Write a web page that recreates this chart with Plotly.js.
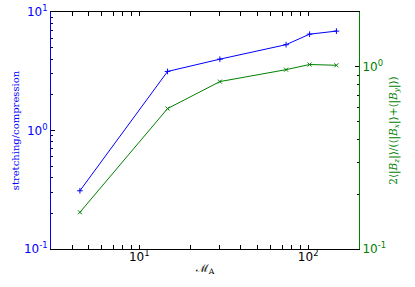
<!DOCTYPE html>
<html><head><meta charset="utf-8">
<script src="https://cdn.plot.ly/plotly-3.0.1.min.js"></script>
<style>html,body{margin:0;padding:0;background:#fff}#plot{width:415px;height:287px}</style>
</head><body><div id="plot"></div>
<script>
var machA = [4.45, 14.7, 30, 74, 102, 147];
var stretching = [0.31, 3.15, 4.0, 5.3, 6.5, 6.9];
var ratioB = [0.159, 0.59, 0.83, 0.965, 1.03, 1.02];
var tickVals = [1, 10, 100];
var tickText = ['10<sup>0</sup>', '10<sup>1</sup>', '10<sup>2</sup>'];
var yTickVals = [0.1, 1, 10];
var yTickText = ['10<sup>-1</sup>', '10<sup>0</sup>', '10<sup>1</sup>'];

var traces = [
  {x: machA, y: stretching, type: 'scatter', mode: 'lines+markers', yaxis: 'y',
   line: {color: '#0000ff', width: 1}, marker: {symbol: 'cross-thin', size: 4, color: '#0000ff', line: {color: '#0000ff', width: 1}}},
  {x: machA, y: ratioB, type: 'scatter', mode: 'lines+markers', yaxis: 'y2',
   line: {color: '#008000', width: 1}, marker: {symbol: 'x-thin', size: 4, color: '#008000', line: {color: '#008000', width: 1}}}
];
var layout = {
  width: 415, height: 287, showlegend: false,
  margin: {l: 51, r: 56, t: 12, b: 38},
  paper_bgcolor: '#fff', plot_bgcolor: '#fff',
  font: {family: 'DejaVu Sans', size: 12, color: '#000'},
  xaxis: {type: 'log', range: [Math.log10(3), Math.log10(200)], showgrid: false, zeroline: false,
    showline: true, linecolor: '#000', linewidth: 1, mirror: 'allticks',
    ticks: 'inside', ticklen: 4, tickcolor: '#000', tickvals: tickVals, ticktext: tickText,
    ticklabelstandoff: -3,
    minor: {ticks: 'inside', ticklen: 2, tickcolor: '#000', dtick: 'D1', showgrid: false},
    title: {text: 'ℳ<sub>A</sub>', font: {family: 'DejaVu Serif', size: 11}, standoff: 0}},
  yaxis: {type: 'log', range: [-1, 1], showgrid: false, zeroline: false,
    showline: true, linecolor: '#0000ff', linewidth: 1,
    ticks: 'inside', ticklen: 4, tickcolor: '#000', tickvals: yTickVals, ticktext: yTickText,
    tickfont: {color: '#0000ff', size: 12},
    minor: {ticks: 'inside', ticklen: 2, tickcolor: '#000', dtick: 'D1', showgrid: false},
    title: {text: 'stretching/compression', font: {family: 'DejaVu Serif', size: 10, color: '#0000ff'}, standoff: 2}},
  yaxis2: {type: 'log', range: [-1, Math.log10(2)], overlaying: 'y', side: 'right', showgrid: false, zeroline: false,
    showline: true, linecolor: '#008000', linewidth: 1,
    ticks: 'inside', ticklen: 4, tickcolor: '#000', tickvals: [0.1, 1], ticktext: ['10<sup>-1</sup>', '10<sup>0</sup>'],
    tickfont: {color: '#008000', size: 12},
    minor: {ticks: 'inside', ticklen: 2, tickcolor: '#000', dtick: 'D1', showgrid: false},
    title: {text: '2⟨|<i>B<sub>z</sub></i>|⟩/(⟨|<i>B<sub>x</sub></i>|⟩+⟨|<i>B<sub>y</sub></i>|⟩)', font: {family: 'DejaVu Serif', size: 10.5, color: '#008000'}, standoff: 4}}
};
Plotly.newPlot('plot', traces, layout, {staticPlot: true, displayModeBar: false});
</script></body></html>
